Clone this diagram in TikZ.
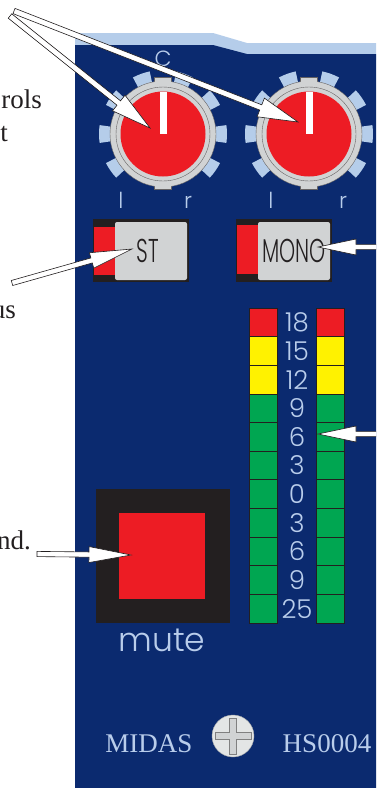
\documentclass[tikz,border=0pt]{standalone}
\usepackage{fontspec}
\setmainfont{Liberation Serif}
\newfontfamily\gfont{Poppins Light}
\newfontfamily\cfont{Poppins Light}[FakeStretch=0.62]
\usetikzlibrary{calc}
\definecolor{panel}{HTML}{0B2A6F}
\definecolor{lblue}{HTML}{B5CDEA}
\definecolor{kred}{HTML}{ED1C24}
\definecolor{kgray}{HTML}{D1D3D4}
\definecolor{kblack}{HTML}{231F20}
\definecolor{kyellow}{HTML}{FFF200}
\definecolor{kgreen}{HTML}{00A651}
\definecolor{txtblue}{HTML}{B9CDEB}
\tikzset{
  arrowsty/.style={fill=white, draw=kblack, line width=0.6pt, line join=miter},
  lefttxt/.style={anchor=base east, inner sep=0pt, font=\fontsize{27}{27}\selectfont, text=kblack},
  paneltxt/.style={inner sep=0pt, text=txtblue},
  numtxt/.style={paneltxt, font=\gfont\fontsize{26}{26}\selectfont},
  knobtxt/.style={paneltxt, anchor=base, font=\gfont\fontsize{22}{22}\selectfont},
  btntxt/.style={inner sep=0pt, text=kblack, font=\cfont\fontsize{33}{33}\selectfont},
  serifpanel/.style={paneltxt, anchor=base, font=\fontsize{27}{27}\selectfont},
  cell/.style={draw=kblack, line width=0.7pt},
}
% #1 tail, #2 tip, #3 head length, #4 head half width, #5 shaft half width
\newcommand\harrow[5]{%
  \filldraw[arrowsty] (#2)
   -- ($(#2)!#3!(#1)!#4!90:(#2)$)
   -- ($(#2)!#3!(#1)!#5!90:(#2)$)
   -- ($(#1)!#5!90:(#2)$)
   -- ($(#1)!#5!-90:(#2)$)
   -- ($(#2)!#3!(#1)!#5!-90:(#2)$)
   -- ($(#2)!#3!(#1)!#4!-90:(#2)$)
   -- cycle;}
\newcommand\knob[2]{%
\begin{scope}[shift={(#1,#2)}, yscale=-1]
  \foreach \a in {0,35,70,110,145,180,215,325} {
    \fill[lblue] ({\a-8}:49) -- ({\a-8}:64) arc[start angle={\a-8}, end angle={\a+8}, radius=64] -- ({\a+8}:49) -- cycle;
  }
  \filldraw[fill=kgray, draw=kblack!70, line width=0.4pt] (-8.5,45) rectangle (8.5,57);
  \filldraw[fill=kgray, draw=kblack!70, line width=0.4pt] (-8.5,-45) rectangle (8.5,-55);
  \filldraw[fill=kgray, draw=kblack!70, line width=0.4pt] (0,0) circle[radius=53];
  \fill[kgray] (-8,44) rectangle (8,56.5);
  \fill[kgray] (-8,-44) rectangle (8,-54.5);
  \draw[kblack!70, line width=0.4pt] (0,0) circle[radius=47];
  \fill[kred] (0,0) circle[radius=42.5];
  \fill[white] (-3.5,0) rectangle (3.5,42.5);
\end{scope}}
\begin{document}
\begin{tikzpicture}[x=1pt,y=-1pt]
\clip (0,0) rectangle (376,788);
\fill[white] (0,0) rectangle (376,788);
% panel
\fill[lblue] (75,33) -- (213,33) -- (247,43) -- (376,43) -- (376,60) -- (75,60) -- cycle;
\fill[panel] (75,45) -- (213,45) -- (247,54) -- (376,54) -- (376,788) -- (75,788) -- cycle;
% knobs
\knob{163}{134}
\knob{309}{134}
\node[knobtxt] (c) at (163,66) {C};
\node[knobtxt] (l1) at (121,208) {l};
\node[knobtxt] (r1) at (188,208) {r};
\node[knobtxt] (l2) at (271,208) {l};
\node[knobtxt] (r2) at (343,208) {r};
% buttons
\fill[kblack] (93,219) rectangle (189,282);
\fill[kred] (94,227) rectangle (115,275);
\fill[kgray, rounded corners=2pt] (115,222) rectangle (187,280);
\node[btntxt] (st) at (148,251) {ST};
\fill[kblack] (236,219) rectangle (332,282);
\fill[kred] (237,225) rectangle (258,274);
\fill[kgray, rounded corners=2pt] (258,222) rectangle (330,280);
\node[btntxt] (mono) at (294,251) {MONO};
% meter
\foreach [count=\i from 0] \n/\c in {18/kred,15/kyellow,12/kyellow,9/kgreen,6/kgreen,3/kgreen,0/kgreen,3/kgreen,6/kgreen,9/kgreen,25/kgreen} {
  \pgfmathsetmacro\yt{308+28.64*\i}
  \filldraw[cell, fill=\c] (249,\yt) rectangle (277,\yt+28.64);
  \filldraw[cell, fill=\c] (316,\yt) rectangle (344,\yt+28.64);
  \node[numtxt] (num\i) at (297,\yt+14.32) {\n};
}
% mute
\fill[kblack] (96,489) rectangle (230,623);
\fill[kred] (119,513) rectangle (205,599);
\node[paneltxt, anchor=base, font=\gfont\fontsize{33}{33}\selectfont] (mute) at (162,651) {mute};
% screw and labels
\filldraw[fill=kgray!60!white, draw=kgray!80!black, line width=0.4pt] (233,736) circle[radius=21];
\filldraw[fill=kgray, draw=gray, line width=0.6pt] (229.5,718) -- (236.5,718) -- (236.5,732.5) -- (251,732.5) -- (251,739.5) -- (236.5,739.5) -- (236.5,754) -- (229.5,754) -- (229.5,739.5) -- (215,739.5) -- (215,732.5) -- (229.5,732.5) -- cycle;
\node[serifpanel] (midas) at (149,752) {MIDAS};
\node[serifpanel] (hs) at (327,752) {HS0004};
% left texts
\node[lefttxt] (t1) at (42,108) {rols};
\node[lefttxt] (t2) at (8,141) {t};
\node[lefttxt] (t3) at (16,318) {us};
\node[lefttxt] (t4) at (31,549) {nd.};
% arrows
\coordinate (a1t) at (10,16);
\coordinate (a1h) at (150,128);
\coordinate (a2t) at (14,11);
\coordinate (a2h) at (298,122);
\coordinate (stt) at (12,283);
\coordinate (sth) at (132,249);
\coordinate (mot) at (385,247);
\coordinate (moh) at (318,247);
\coordinate (met) at (385,434);
\coordinate (meh) at (318,434);
\coordinate (mut) at (37,554);
\coordinate (muh) at (131,555);
\harrow{a1t}{a1h}{40pt}{10pt}{2.8pt}
\harrow{a2t}{a2h}{40pt}{10pt}{2.8pt}
\harrow{stt}{sth}{42pt}{8pt}{2.6pt}
\harrow{mot}{moh}{38pt}{8pt}{2.6pt}
\harrow{met}{meh}{38pt}{8pt}{2.6pt}
\harrow{mut}{muh}{42pt}{8pt}{2.6pt}
\end{tikzpicture}
\end{document}
